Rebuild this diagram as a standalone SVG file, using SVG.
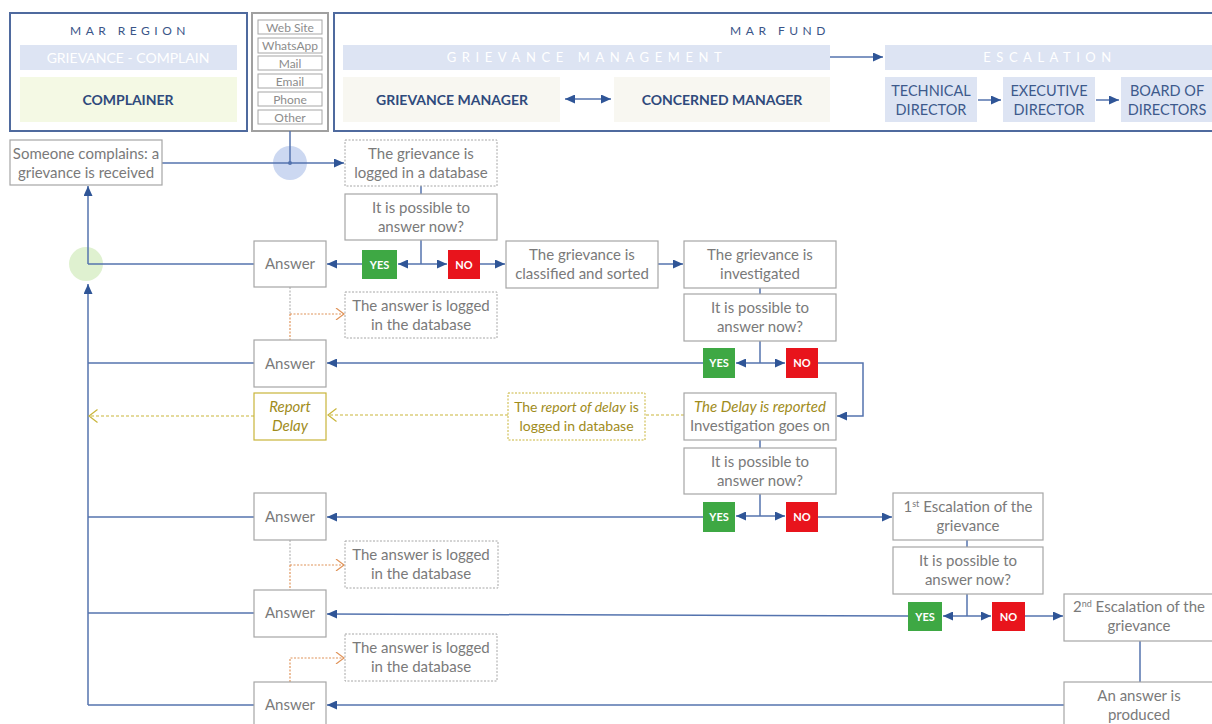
<svg xmlns="http://www.w3.org/2000/svg" width="1212" height="724" viewBox="0 0 1212 724">
<defs>
<style>
.t{font-family:Lato,"Open Sans","Liberation Sans",sans-serif;font-size:15px;fill:#7a7a7a;text-anchor:middle}
.hd{fill:none;stroke:#4f6a9e;stroke-width:2}
.band{fill:#dde4f3}
.bt{font-family:Lato,"Open Sans",sans-serif;font-size:14px;fill:#ffffff;text-anchor:middle}
.sp{font-family:Lato,"Open Sans",sans-serif;font-size:12px;fill:#3a5588;text-anchor:middle;letter-spacing:4.5px}
.hb{font-family:Lato,"Open Sans",sans-serif;font-size:14px;font-weight:bold;fill:#2f4a7c;text-anchor:middle}
.hr{font-family:Lato,"Open Sans",sans-serif;font-size:14.5px;fill:#3d5a8c;text-anchor:middle}
.ch{fill:#fff;stroke:#a6a6a6;stroke-width:1}
.cht{font-family:Lato,"Open Sans",sans-serif;font-size:12px;fill:#8c8c8c;text-anchor:middle}
.box{fill:#fff;stroke:#a6a6a6;stroke-width:1.2}
.dbox{fill:#fff;stroke:#a6a6a6;stroke-width:1;stroke-dasharray:2 1.5}
.obox{fill:#fff;stroke:#c9b53a;stroke-width:1.2}
.odbox{fill:#fff;stroke:#c9b53a;stroke-width:1;stroke-dasharray:2 1.5}
.ot{fill:#a08c1c;font-style:italic}
.yes{fill:#3ea844}
.no{fill:#e8141c}
.yn{font-family:Lato,"Open Sans",sans-serif;font-size:11px;font-weight:bold;fill:#fff;text-anchor:middle}
.c{fill:none;stroke:#5473ae;stroke-width:1.5}
.ca{fill:none;stroke:#5473ae;stroke-width:1.5;marker-end:url(#ah)}
.od{fill:none;stroke:#c9b53a;stroke-width:1.2;stroke-dasharray:3 2}
.or{fill:none;stroke:#e0945a;stroke-width:1.2;stroke-dasharray:2 1.5}
.gd{fill:none;stroke:#a6a6a6;stroke-width:1;stroke-dasharray:2 1.5}
</style>
<marker id="ah" markerUnits="userSpaceOnUse" markerWidth="10" markerHeight="9" refX="10" refY="4.5" orient="auto-start-reverse"><path d="M0,0 L10,4.5 L0,9 z" fill="#2f5597"/></marker>
<marker id="oc" markerUnits="userSpaceOnUse" markerWidth="11" markerHeight="14" refX="9.5" refY="7" orient="auto"><path d="M1,0.5 L9.5,7 L1,13.5" fill="none" stroke="#c9b53a" stroke-width="1.2"/></marker>
<marker id="rc" markerUnits="userSpaceOnUse" markerWidth="10" markerHeight="12" refX="9" refY="6" orient="auto"><path d="M1,0 L9,6 L1,12" fill="none" stroke="#e0945a" stroke-width="1.2"/></marker>
</defs>
<rect width="1212" height="724" fill="#fff"/>

<g id="header-region">
<rect class="hd" x="10" y="13" width="237" height="118"/>
<text class="sp" x="130" y="35">MAR REGION</text>
<rect class="band" x="20" y="45" width="217" height="25"/>
<text class="bt" x="128" y="63">GRIEVANCE - COMPLAIN</text>
<rect x="20" y="77" width="217" height="45" fill="#f4f9e4"/>
<text class="hb" x="128" y="105">COMPLAINER</text>
</g>

<g id="channels">
<rect x="252" y="13" width="76" height="118" fill="none" stroke="#a0a0a0" stroke-width="2"/>
<rect class="ch" x="258" y="20" width="64" height="14"/><text class="cht" x="290" y="31.5">Web Site</text>
<rect class="ch" x="258" y="38" width="64" height="15"/><text class="cht" x="290" y="50">WhatsApp</text>
<rect class="ch" x="258" y="56" width="64" height="14"/><text class="cht" x="290" y="67.5">Mail</text>
<rect class="ch" x="258" y="74" width="64" height="14"/><text class="cht" x="290" y="85.5">Email</text>
<rect class="ch" x="258" y="92" width="64" height="14"/><text class="cht" x="290" y="103.5">Phone</text>
<rect class="ch" x="258" y="110" width="64" height="14"/><text class="cht" x="290" y="121.5">Other</text>
</g>

<g id="header-fund">
<rect class="hd" x="334" y="13" width="890" height="118"/>
<text class="sp" x="780" y="35">MAR FUND</text>
<rect class="band" x="343" y="45" width="487" height="25"/>
<text class="bt" x="587" y="62" style="font-size:13px;letter-spacing:5.6px">GRIEVANCE MANAGEMENT</text>
<rect class="band" x="885" y="45" width="330" height="25"/>
<text class="bt" x="1050" y="62" style="font-size:13px;letter-spacing:5.5px">ESCALATION</text>
<rect x="343" y="77" width="217" height="45" fill="#f8f7f1"/>
<text class="hb" x="452" y="105">GRIEVANCE MANAGER</text>
<rect x="614" y="77" width="216" height="45" fill="#f8f7f1"/>
<text class="hb" x="722" y="105">CONCERNED MANAGER</text>
<rect class="band" x="885" y="77" width="92" height="45"/>
<text class="hr" x="931" y="96">TECHNICAL</text><text class="hr" x="931" y="115">DIRECTOR</text>
<rect class="band" x="1003" y="77" width="92" height="45"/>
<text class="hr" x="1049" y="96">EXECUTIVE</text><text class="hr" x="1049" y="115">DIRECTOR</text>
<rect class="band" x="1121" y="77" width="95" height="45"/>
<text class="hr" x="1167" y="96">BOARD OF</text><text class="hr" x="1167" y="115">DIRECTORS</text>
</g>

<g id="junctions">
<circle cx="290" cy="163" r="17" fill="#c3d1ef" opacity="0.85"/>
<circle cx="86" cy="264" r="17" fill="#dcefcb" opacity="0.9"/>
</g>

<g id="connectors">
<path class="ca" d="M565,99 H611" marker-start="url(#ah)"/>
<path class="ca" d="M830,57 H883"/>
<path class="ca" d="M978,100 H1001"/>
<path class="ca" d="M1096,100 H1119"/>
<path class="c" d="M290,131 V163"/>
<circle cx="290" cy="163" r="2" fill="#5473ae"/>
<path class="ca" d="M162,163 H344"/>
<path class="c" d="M421,186 V194"/>
<path class="c" d="M421,240 V264"/>
<path class="ca" d="M421,264 H398"/>
<path class="ca" d="M421,264 H447"/>
<path class="ca" d="M362,264 H327"/>
<path class="ca" d="M480,264 H505"/>
<path class="ca" d="M658,264 H683"/>
<path class="c" d="M760,288 V294"/>
<path class="c" d="M760,341 V363"/>
<path class="ca" d="M760,363 H736"/>
<path class="ca" d="M760,363 H785"/>
<path class="ca" d="M703,363 H327"/>
<path class="ca" d="M818,363 H863 V416 H837"/>
<path class="c" d="M760,440 V448"/>
<path class="c" d="M760,494 V516"/>
<path class="ca" d="M760,516 H736"/>
<path class="ca" d="M760,516 H785"/>
<path class="ca" d="M703,517 H327"/>
<path class="ca" d="M818,517 H892"/>
<path class="c" d="M967,540 V547"/>
<path class="c" d="M967,594 V616"/>
<path class="ca" d="M967,616 H943"/>
<path class="ca" d="M967,616 H991"/>
<path class="ca" d="M908,616 L327,614"/>
<path class="ca" d="M1025,616 H1063"/>
<path class="c" d="M1140,641 V682"/>
<path class="ca" d="M1064,705 H327"/>
<path class="c" d="M254,264 H88"/>
<path class="c" d="M254,363 H88"/>
<path class="c" d="M254,517 H88"/>
<path class="c" d="M254,613 H88"/>
<path class="c" d="M254,705 H88"/>
<path class="ca" d="M88,705 V284"/>
<path class="ca" d="M88,264 V186"/>
<path class="od" d="M684,415 H645"/>
<path class="od" d="M508,415 H328" marker-end="url(#oc)"/>
<path class="od" d="M254,416 H89" marker-end="url(#oc)"/>
<path class="gd" d="M290,287 V314"/>
<path class="or" d="M290,314 V340"/>
<path class="or" d="M290,314 H344" marker-end="url(#rc)"/>
<path class="gd" d="M290,540 V565"/>
<path class="or" d="M290,565 V590"/>
<path class="or" d="M290,565 H344" marker-end="url(#rc)"/>
<path class="or" d="M290,682 V658 H344" marker-end="url(#rc)"/>
</g>

<g id="n-complain"><rect class="box" x="10" y="140" width="152" height="45"/>
<text class="t" x="86" y="159">Someone complains: a</text><text class="t" x="86" y="178">grievance is received</text></g>
<g id="n-logged"><rect class="dbox" x="345" y="140" width="152" height="46"/>
<text class="t" x="421" y="159">The grievance is</text><text class="t" x="421" y="178">logged in a database</text></g>
<g id="n-q1"><rect class="box" x="345" y="194" width="152" height="46"/>
<text class="t" x="421" y="213">It is possible to</text><text class="t" x="421" y="232">answer now?</text></g>
<g id="n-ans1"><rect class="box" x="254" y="241" width="72" height="46"/><text class="t" x="290" y="269">Answer</text></g>
<g id="n-yes1"><rect class="yes" x="362" y="250" width="35" height="29"/><text class="yn" x="379.5" y="268.5">YES</text></g>
<g id="n-no1"><rect class="no" x="448" y="250" width="32" height="29"/><text class="yn" x="464" y="268.5">NO</text></g>
<g id="n-classified"><rect class="box" x="506" y="241" width="152" height="47"/>
<text class="t" x="582" y="260">The grievance is</text><text class="t" x="582" y="279">classified and sorted</text></g>
<g id="n-investigated"><rect class="box" x="684" y="241" width="152" height="47"/>
<text class="t" x="760" y="260">The grievance is</text><text class="t" x="760" y="279">investigated</text></g>
<g id="n-alog1"><rect class="dbox" x="345" y="292" width="152" height="46"/>
<text class="t" x="421" y="311">The answer is logged</text><text class="t" x="421" y="330">in the database</text></g>
<g id="n-q2"><rect class="box" x="684" y="294" width="152" height="47"/>
<text class="t" x="760" y="313">It is possible to</text><text class="t" x="760" y="332">answer now?</text></g>
<g id="n-ans2"><rect class="box" x="254" y="340" width="72" height="47"/><text class="t" x="290" y="369">Answer</text></g>
<g id="n-yes2"><rect class="yes" x="703" y="348" width="32" height="30"/><text class="yn" x="719" y="367">YES</text></g>
<g id="n-no2"><rect class="no" x="786" y="348" width="32" height="30"/><text class="yn" x="802" y="367">NO</text></g>
<g id="n-reportdelay"><rect class="obox" x="254" y="393" width="72" height="47"/>
<text class="t ot" x="290" y="412">Report</text><text class="t ot" x="290" y="431">Delay</text></g>
<g id="n-reportlog"><rect class="odbox" x="508" y="393" width="137" height="47"/>
<text class="t" x="576.5" y="412" style="fill:#a08c1c;font-size:14px">The <tspan font-style="italic">report of delay</tspan> is</text><text class="t" x="576.5" y="431" style="fill:#a08c1c;font-size:14px">logged in database</text></g>
<g id="n-delayed"><rect class="box" x="684" y="393" width="152" height="47"/>
<text class="t ot" x="760" y="412">The Delay is reported</text><text class="t" x="760" y="431">Investigation goes on</text></g>
<g id="n-q3"><rect class="box" x="684" y="448" width="152" height="46"/>
<text class="t" x="760" y="467">It is possible to</text><text class="t" x="760" y="486">answer now?</text></g>
<g id="n-ans3"><rect class="box" x="254" y="493" width="72" height="47"/><text class="t" x="290" y="522">Answer</text></g>
<g id="n-yes3"><rect class="yes" x="703" y="502" width="32" height="30"/><text class="yn" x="719" y="521">YES</text></g>
<g id="n-no3"><rect class="no" x="786" y="502" width="32" height="30"/><text class="yn" x="802" y="521">NO</text></g>
<g id="n-esc1"><rect class="box" x="893" y="493" width="150" height="47"/>
<text class="t" x="968" y="512">1<tspan font-size="9" dy="-5">st</tspan><tspan dy="5"> Escalation of the</tspan></text><text class="t" x="968" y="531">grievance</text></g>
<g id="n-alog2"><rect class="dbox" x="345" y="541" width="153" height="47"/>
<text class="t" x="421" y="560">The answer is logged</text><text class="t" x="421" y="579">in the database</text></g>
<g id="n-q4"><rect class="box" x="893" y="547" width="150" height="47"/>
<text class="t" x="968" y="566">It is possible to</text><text class="t" x="968" y="585">answer now?</text></g>
<g id="n-ans4"><rect class="box" x="254" y="590" width="72" height="47"/><text class="t" x="290" y="618">Answer</text></g>
<g id="n-yes4"><rect class="yes" x="908" y="602" width="34" height="29"/><text class="yn" x="925" y="620.5">YES</text></g>
<g id="n-no4"><rect class="no" x="992" y="602" width="33" height="29"/><text class="yn" x="1008.5" y="620.5">NO</text></g>
<g id="n-esc2"><rect class="box" x="1064" y="594" width="150" height="47"/>
<text class="t" x="1139" y="612">2<tspan font-size="9" dy="-5">nd</tspan><tspan dy="5"> Escalation of the</tspan></text><text class="t" x="1139" y="631">grievance</text></g>
<g id="n-alog3"><rect class="dbox" x="345" y="634" width="152" height="47"/>
<text class="t" x="421" y="653">The answer is logged</text><text class="t" x="421" y="672">in the database</text></g>
<g id="n-ans5"><rect class="box" x="254" y="682" width="72" height="50"/><text class="t" x="290" y="710">Answer</text></g>
<g id="n-produced"><rect class="box" x="1064" y="682" width="150" height="50"/>
<text class="t" x="1139" y="701">An answer is</text><text class="t" x="1139" y="720">produced</text></g>
</svg>
